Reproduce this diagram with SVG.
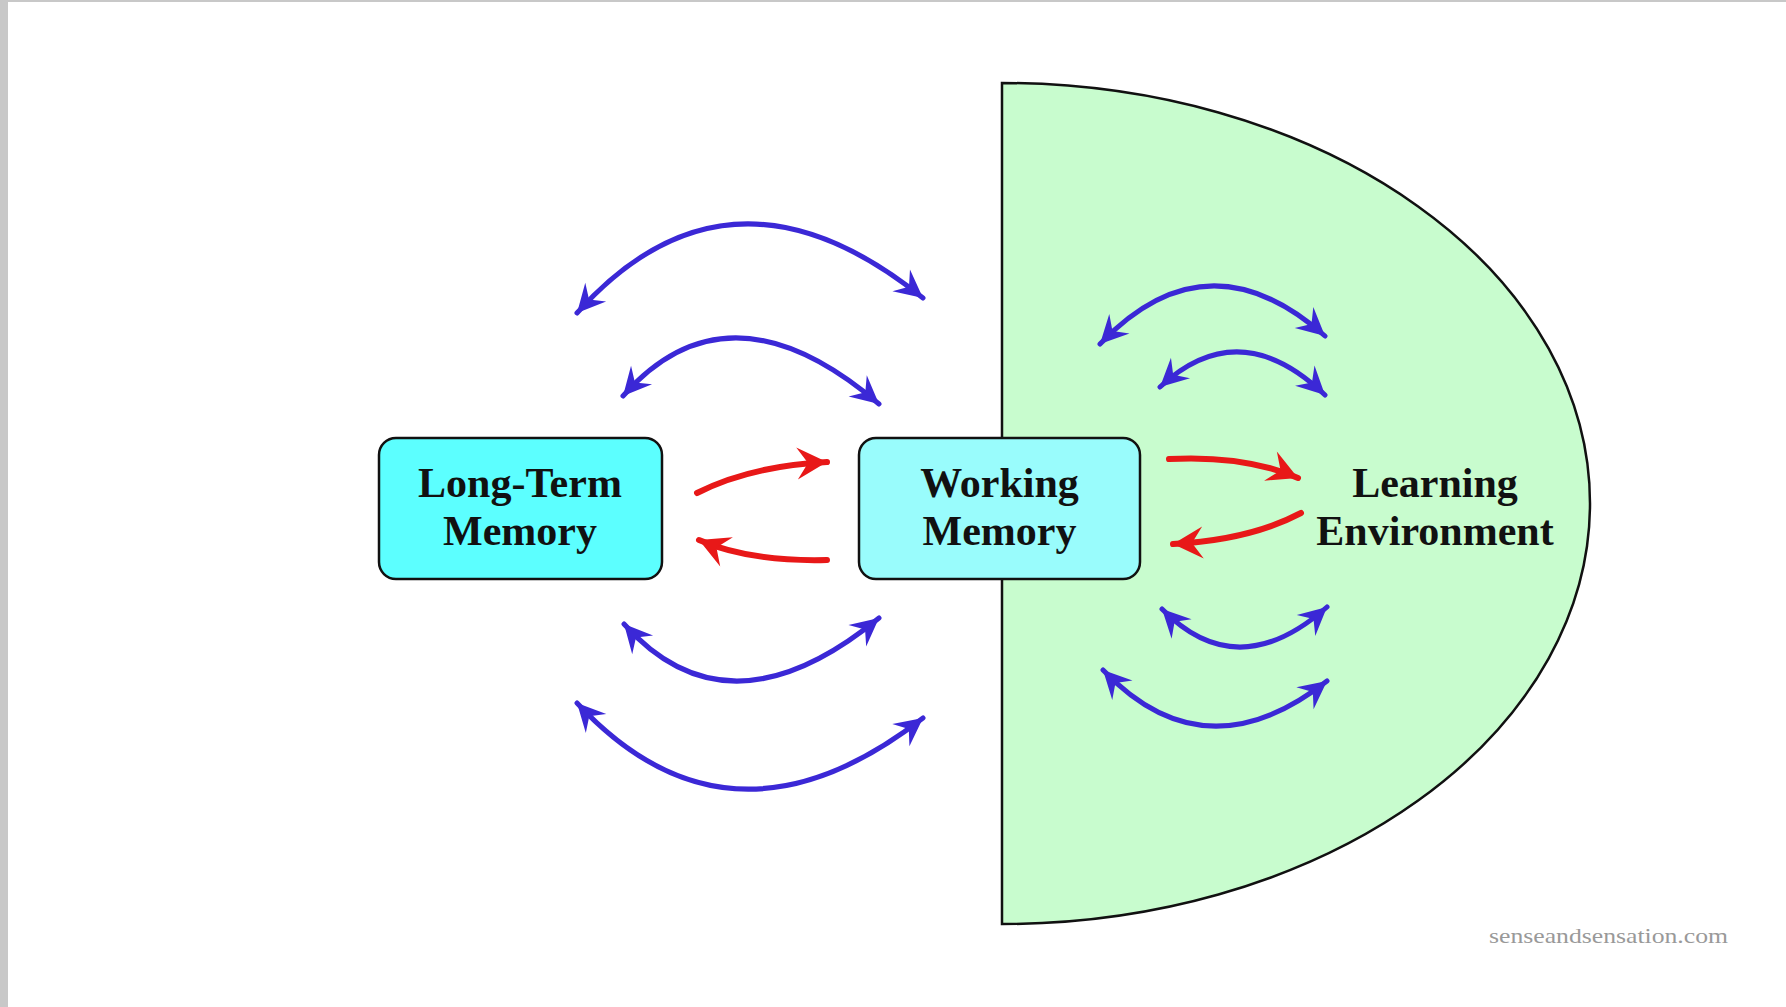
<svg xmlns="http://www.w3.org/2000/svg" width="1786" height="1007" viewBox="0 0 1786 1007">
<style>
.lbl{font-family:"Liberation Serif","Times New Roman",serif;font-weight:bold;font-size:42px;fill:#111;text-anchor:middle}
.box{stroke:#111;stroke-width:2.5}
.blue{fill:none;stroke:#3b28d6;stroke-width:5;stroke-linecap:round;marker-start:url(#bh);marker-end:url(#bh)}
.red{fill:none;stroke:#e81818;stroke-width:6;stroke-linecap:round;marker-end:url(#rh)}
</style>
<defs>
<marker id="bh" viewBox="-30 -15 32 30" refX="0" refY="0" markerWidth="32" markerHeight="30" markerUnits="userSpaceOnUse" orient="auto-start-reverse">
<path d="M0,0 L-28,-14 L-18,0 L-28,14 Z" fill="#3b28d6"/>
</marker>
<marker id="rh" viewBox="-32 -17 34 34" refX="0" refY="0" markerWidth="34" markerHeight="34" markerUnits="userSpaceOnUse" orient="auto">
<path d="M0,0 L-30,-16 L-19,0 L-30,16 Z" fill="#e81818"/>
</marker>
</defs>
<rect x="0" y="0" width="1786" height="1007" fill="#ffffff"/>
<rect x="0" y="0" width="1786" height="2" fill="#c8c8c8"/>
<rect x="0" y="0" width="8" height="1007" fill="#c8c8c8"/>

<g id="learning-environment">
<path d="M1002,83 A588,420.5 0 0 1 1002,924 Z" fill="#c8fcce" stroke="#111" stroke-width="2.5"/>
<text class="lbl" x="1435" y="497">Learning</text>
<text class="lbl" x="1435" y="545">Environment</text>
</g>

<g id="long-term-memory">
<rect class="box" x="379" y="438" width="283" height="141" rx="17" fill="#5cffff"/>
<text class="lbl" x="520" y="497">Long-Term</text>
<text class="lbl" x="520" y="545">Memory</text>
</g>

<g id="working-memory">
<rect class="box" x="859" y="438" width="281" height="141" rx="17" fill="#99fcfc"/>
<text class="lbl" x="999.5" y="497">Working</text>
<text class="lbl" x="999.5" y="545">Memory</text>
</g>

<g id="connectors">
<path class="blue" d="M577,313 Q730,142.5 923,298"/>
<path class="blue" d="M623,396 Q729,276 879,404"/>
<path class="blue" d="M624,624 Q728.5,741 879,618"/>
<path class="blue" d="M577,703 Q730,867.5 923,718"/>
<path class="blue" d="M1100,344 Q1207.5,232 1325,336"/>
<path class="blue" d="M1160,387 Q1239.5,313 1325,395"/>
<path class="blue" d="M1162,609 Q1237.5,686 1327,607"/>
<path class="blue" d="M1103,670 Q1205,776.5 1327,681"/>
<path class="red" d="M697,493 Q750,466 827,462"/>
<path class="red" d="M827,560 Q750,562 699,540"/>
<path class="red" d="M1169,459 Q1245,455 1298,478"/>
<path class="red" d="M1301,513 Q1250,540 1173,544"/>
</g>

<text x="1489" y="943" textLength="239" lengthAdjust="spacingAndGlyphs" style="font-family:'Liberation Serif','Times New Roman',serif;font-size:22px;fill:#999">senseandsensation.com</text>
</svg>
